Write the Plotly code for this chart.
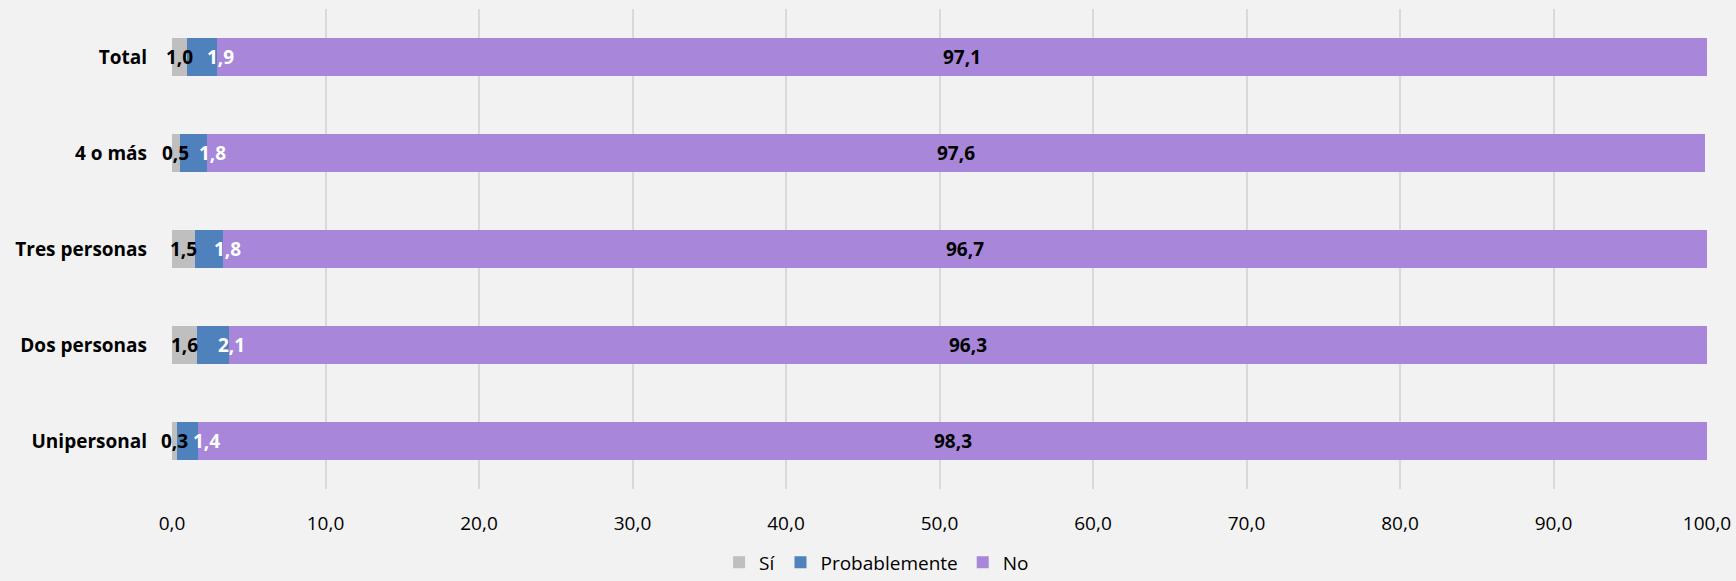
import plotly.graph_objects as go

categories = ["Unipersonal", "Dos personas", "Tres personas", "4 o más", "Total"]
si = [0.3, 1.6, 1.5, 0.5, 1.0]
probablemente = [1.4, 2.1, 1.8, 1.8, 1.9]
no = [98.3, 96.3, 96.7, 97.6, 97.1]
series_names = ["Sí", "Probablemente", "No"]
colors = ["#bfbfbf", "#4f81bd", "#a886d9"]
x_ticks = [0, 10, 20, 30, 40, 50, 60, 70, 80, 90, 100]

def fmt(v):
    return f"{v:.1f}".replace(".", ",")

FONT = "Open Sans, Noto Sans, sans-serif"

fig = go.Figure()
for name, vals, col in zip(series_names, [si, probablemente, no], colors):
    fig.add_trace(go.Bar(
        y=categories, x=vals, name=name, orientation="h",
        marker=dict(color=col, line=dict(width=0)),
        hoverinfo="x+name",
    ))

lab_font = dict(family=FONT, size=19)
annotations = []
for i, cat in enumerate(categories):
    s, p, n = si[i], probablemente[i], no[i]
    annotations.append(dict(x=s / 2, y=cat, text=f"<b>{fmt(s)}</b>", showarrow=False,
                            font=dict(color="black", **lab_font), xref="x", yref="y"))
    annotations.append(dict(x=s + p / 2, y=cat, text=f"<b>{fmt(p)}</b>", showarrow=False,
                            xshift=19, font=dict(color="white", **lab_font), xref="x", yref="y"))
    annotations.append(dict(x=s + p + n / 2, y=cat, text=f"<b>{fmt(n)}</b>", showarrow=False,
                            font=dict(color="black", **lab_font), xref="x", yref="y"))

fig.update_layout(
    barmode="stack",
    bargap=0.6,
    width=1736, height=581,
    margin=dict(l=172, r=29, t=9, b=92, autoexpand=False),
    paper_bgcolor="#f2f2f2",
    plot_bgcolor="#f2f2f2",
    separators=",.",
    font=dict(family=FONT, color="black", size=18),
    showlegend=True,
    legend=dict(orientation="h", x=0.459, xanchor="center",
                yref="container", y=0.032, yanchor="middle",
                font=dict(size=19), traceorder="normal", itemwidth=30,
                bgcolor="rgba(0,0,0,0)"),
    annotations=annotations,
)
fig.update_xaxes(range=[0, 100], tickvals=x_ticks, tickformat=".1f",
                 showgrid=True, gridcolor="#d9d9d9", gridwidth=2, automargin=False,
                 zeroline=False, showline=False, ticks="", ticklabelstandoff=21,
                 tickfont=dict(size=19))
fig.update_yaxes(categoryorder="array", categoryarray=categories, automargin=False,
                 showgrid=False, showline=False, ticks="", ticklabelstandoff=24,
                 tickfont=dict(size=19, family=FONT, weight="bold"))

fig.write_html("out.html", config={"displayModeBar": False},
               post_script="document.body.style.margin='0';document.body.style.overflow='hidden';")
